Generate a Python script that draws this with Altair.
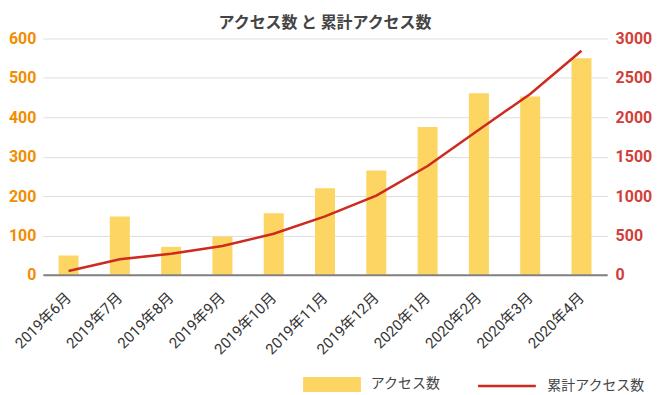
import altair as alt
import pandas as pd

months = ["2019年6月", "2019年7月", "2019年8月", "2019年9月", "2019年10月", "2019年11月",
          "2019年12月", "2020年1月", "2020年2月", "2020年3月", "2020年4月"]
access = [49, 148, 71, 97, 156, 220, 265, 375, 461, 453, 550]
cumulative = [49, 197, 268, 365, 521, 741, 1006, 1381, 1842, 2295, 2845]
left_ticks = [0, 100, 200, 300, 400, 500, 600]
right_ticks = [0, 500, 1000, 1500, 2000, 2500, 3000]
series_bar = "アクセス数"
series_line = "累計アクセス数"

df = pd.DataFrame({"month": months, "access": access, "cumulative": cumulative})
df["s1"] = series_bar
df["s2"] = series_line

NUM = "Roboto"
MIX = "Roboto, 'Noto Sans CJK JP', sans-serif"
JP = "'Noto Sans CJK JP', sans-serif"

BAR = "#FDD562"
LINE = "#CD2A20"
ORANGE = "#F28C00"
RED = "#D0403A"

x = alt.X("month:N", sort=months, title=None,
          scale=alt.Scale(paddingInner=0.61, paddingOuter=0.305),
          axis=alt.Axis(labelAngle=-45, labelAlign="right", labelBaseline="middle",
                        labelPadding=20, labelFontSize=15, labelColor="#333", labelFont=MIX,
                        ticks=False, domainColor="#808080", domainWidth=2, labelOverlap=False,
                        grid=False, zindex=1))

bars = alt.Chart(df).mark_bar().encode(
    x=x,
    y=alt.Y("access:Q", title=None, scale=alt.Scale(domain=[0, 600], nice=False),
            axis=alt.Axis(values=left_ticks, format="d", labelColor=ORANGE,
                          labelFontWeight="bold", labelFontSize=16, labelFont=NUM,
                          domain=False, ticks=False, gridColor="#DDDDDD", labelPadding=7)),
    fill=alt.Fill("s1:N", scale=alt.Scale(domain=[series_bar], range=[BAR]),
                  legend=alt.Legend(title=None, orient="none", legendX=261, legendY=318,
                                    symbolType="M-1,-0.2586H1V0.2586H-1Z", symbolSize=3364,
                                    symbolStrokeWidth=0, labelFontSize=14, labelFont=JP,
                                    labelColor="#444", labelOffset=10, padding=0)),
)

line = alt.Chart(df).mark_line(strokeWidth=2.5).encode(
    x=x,
    y=alt.Y("cumulative:Q", title=None, scale=alt.Scale(domain=[0, 3000], nice=False),
            axis=alt.Axis(orient="right", values=right_ticks, format="d", labelColor=RED,
                          labelFontWeight="bold", labelFontSize=16, labelFont=NUM,
                          domain=False, ticks=False, grid=False, labelPadding=8)),
    stroke=alt.Stroke("s2:N", scale=alt.Scale(domain=[series_line], range=[LINE]),
                      legend=alt.Legend(title=None, orient="none", legendX=435, legendY=318,
                                        symbolType="stroke", symbolSize=3364,
                                        symbolStrokeWidth=2.5, labelFontSize=14, labelFont=JP,
                                        labelColor="#444", labelOffset=10, padding=0)),
)

chart = alt.layer(bars, line).resolve_scale(y="independent", fill="independent",
                                             stroke="independent").properties(
    width=566, height=237,
    padding={"top": 6, "left": 0, "right": 0, "bottom": 8},
    title=alt.Title("アクセス数 と 累計アクセス数", fontSize=16, font=JP, color="#444",
                    fontWeight="bold", offset=0),
).configure_view(stroke=None)

chart.save("out.html", embed_options={"renderer": "svg", "actions": False})
